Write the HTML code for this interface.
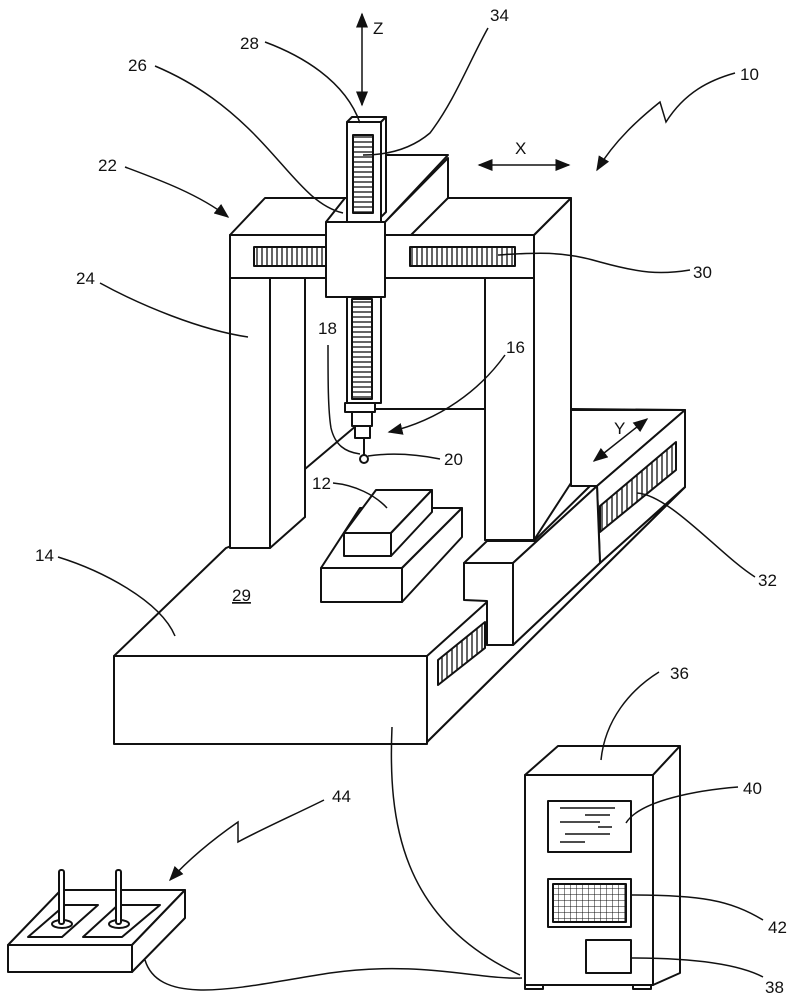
<!DOCTYPE html>
<html><head><meta charset="utf-8"><style>
html,body{margin:0;padding:0;background:#fff}
svg{display:block}
text{font-family:"Liberation Sans",sans-serif;font-size:17px;fill:#111}
</style></head><body>
<svg width="795" height="1000" viewBox="0 0 795 1000" xmlns="http://www.w3.org/2000/svg">
<defs>
<pattern id="rk" width="5" height="10" patternUnits="userSpaceOnUse"><line x1="2" y1="0" x2="2" y2="10" stroke="#111" stroke-width="1.3"/></pattern>
<pattern id="rkh" width="10" height="5" patternUnits="userSpaceOnUse"><line x1="0" y1="2" x2="10" y2="2" stroke="#111" stroke-width="1.3"/></pattern>
<pattern id="grid" width="6" height="6" patternUnits="userSpaceOnUse"><path d="M0 0H6M0 0V6" stroke="#111" stroke-width="1"/></pattern>
<marker id="ah" markerWidth="10" markerHeight="8" refX="9" refY="4" orient="auto"><path d="M0 0L10 4L0 8z" fill="#111"/></marker>
<marker id="ahs" markerWidth="10" markerHeight="8" refX="1" refY="4" orient="auto"><path d="M10 0L0 4L10 8z" fill="#111"/></marker>
</defs>
<g fill="#fff" stroke="#111" stroke-width="2" stroke-linejoin="round">
<polygon points="114,656 226,548 305,517 305,469 376,409 485,409 485,540 571,483 571,409 685,410 685,487 427,742 427,656"/>
<polygon points="427,656 487,602 487,645 513,645 600,563 685,487 427,742"/>
<rect x="114" y="656" width="313" height="88"/>
<polygon points="571,410 685,410 597,486 571,486"/>
<polygon points="597,486 685,410 685,487 600,563"/>
<polygon points="600,506 676,442 676,470 600,532" fill="url(#rk)"/>
<polygon points="438,660 485,622 485,648 438,685" fill="url(#rk)"/>
<polygon points="270,278 305,278 305,517 270,548"/>
<rect x="230" y="235" width="40" height="313"/>
<polygon points="534,235 571,198 571,483 534,540"/>
<rect x="485" y="278" width="49" height="262"/>
<polygon points="464,563 487,541 534,541 590,486 597,486 513,563"/>
<polygon points="513,563 597,486 600,563 513,645"/>
<polygon points="464,563 513,563 513,645 487,645 487,601 464,600"/>
<polygon points="230,235 265,198 571,198 534,235"/>
<rect x="230" y="235" width="304" height="43"/>
<line x1="305" y1="278" x2="485" y2="278"/>
<rect x="254" y="247" width="72" height="19" fill="url(#rk)"/>
<rect x="410" y="247" width="105" height="19" fill="url(#rk)"/>
<polygon points="385,222 448,158 448,198 411,235 385,235"/>
<polygon points="326,222 345,198 381,198 381,155 448,155 385,222"/>
<polygon points="347,122 352,117 386,117 381,122"/>
<polygon points="381,122 386,117 386,212 381,217"/>
<rect x="347" y="122" width="34" height="100"/>
<rect x="353" y="135" width="20" height="78" fill="url(#rkh)"/>
<rect x="326" y="222" width="59" height="75"/>
<rect x="347" y="297" width="34" height="106"/>
<rect x="352" y="299" width="20" height="100" fill="url(#rkh)"/>
<rect x="345" y="403" width="30" height="9"/>
<rect x="352" y="412" width="20" height="14"/>
<rect x="355" y="426" width="15" height="12"/>
<line x1="364" y1="438" x2="364" y2="455"/>
<circle cx="364" cy="459" r="4"/>
<polygon points="321,568 360,508 462,508 402,568"/>
<polygon points="402,568 462,508 462,537 402,602"/>
<rect x="321" y="568" width="81" height="34"/>
<polygon points="344,533 376,490 432,490 391,533"/>
<polygon points="391,533 432,490 432,512 391,556"/>
<rect x="344" y="533" width="47" height="23"/>
<polygon points="525,775 558,746 680,746 653,775"/>
<polygon points="653,775 680,746 680,973 653,985"/>
<rect x="525" y="775" width="128" height="210"/>
<rect x="525" y="985" width="18" height="4"/><rect x="633" y="985" width="18" height="4"/>
<rect x="548" y="801" width="83" height="51"/>
<rect x="548" y="879" width="83" height="48"/>
<rect x="553" y="884" width="73" height="38" fill="url(#grid)"/>
<rect x="586" y="940" width="45" height="33"/>
<polygon points="8,945 61,890 185,890 132,945"/>
<polygon points="132,945 185,890 185,918 132,972"/>
<rect x="8" y="945" width="124" height="27"/>
<polygon points="28,937 65,905 98,905 62,937"/>
<polygon points="83,937 118,905 160,905 122,937"/>
<ellipse cx="62" cy="924" rx="10" ry="4"/><ellipse cx="119" cy="924" rx="10" ry="4"/>
<rect x="59" y="870" width="5" height="54" rx="2"/><rect x="116" y="870" width="5" height="54" rx="2"/>
</g>
<g fill="none" stroke="#111" stroke-width="1.5">
<line x1="560" y1="808" x2="615" y2="808"/><line x1="585" y1="815" x2="610" y2="815"/><line x1="560" y1="822" x2="600" y2="822"/><line x1="598" y1="827" x2="612" y2="827"/><line x1="565" y1="834" x2="610" y2="834"/><line x1="560" y1="842" x2="585" y2="842"/>
<path d="M392,727 C388,820 400,920 520,975"/>
<path d="M145,960 C160,1010 250,985 330,973 C420,960 480,980 522,978"/>
<path d="M155,66 C200,85 230,110 253,133 C290,170 310,205 343,213"/>
<path d="M265,42 C300,55 345,80 360,123"/>
<path d="M488,28 C470,60 455,100 430,133 C410,150 385,155 363,155"/>
<path d="M125,167 C160,180 200,195 228,217" marker-end="url(#ah)"/>
<path d="M100,283 C140,305 200,330 248,337"/>
<path d="M690,270 C660,275 640,273 600,262 C560,250 530,253 498,255"/>
<path d="M328,345 C328,380 328,410 331,428 C335,445 345,452 360,454"/>
<path d="M505,355 C480,390 440,420 389,432" marker-end="url(#ah)"/>
<path d="M440,459 C420,455 395,452 368,456"/>
<path d="M333,483 C355,485 375,495 387,508"/>
<path d="M58,557 C100,570 160,600 175,636"/>
<path d="M755,577 C720,555 670,495 637,493"/>
<path d="M659,672 C630,690 605,720 601,760"/>
<path d="M738,787 C700,790 640,800 626,823"/>
<path d="M763,920 C730,900 700,895 631,895"/>
<path d="M763,977 C740,965 700,958 631,958"/>
<path d="M324,800 C300,812 260,830 238,842 L238,822 C215,838 190,858 170,880" marker-end="url(#ah)"/>
<path d="M735,73 C710,80 685,92 666,122 L660,102 C640,118 615,140 597,170" marker-end="url(#ah)"/>
<line x1="362" y1="14" x2="362" y2="105" marker-start="url(#ahs)" marker-end="url(#ah)"/>
<line x1="479" y1="165" x2="569" y2="165" marker-start="url(#ahs)" marker-end="url(#ah)"/>
<line x1="594" y1="461" x2="647" y2="419" marker-start="url(#ahs)" marker-end="url(#ah)"/>
</g>
<text x="373" y="34">Z</text>
<text x="240" y="49">28</text>
<text x="490" y="21">34</text>
<text x="128" y="71">26</text>
<text x="740" y="80">10</text>
<text x="98" y="171">22</text>
<text x="515" y="154">X</text>
<text x="76" y="284">24</text>
<text x="693" y="278">30</text>
<text x="318" y="334">18</text>
<text x="506" y="353">16</text>
<text x="444" y="465">20</text>
<text x="312" y="489">12</text>
<text x="35" y="561">14</text>
<text x="232" y="601" text-decoration="underline">29</text>
<text x="758" y="586">32</text>
<text x="614" y="434">Y</text>
<text x="670" y="679">36</text>
<text x="743" y="794">40</text>
<text x="768" y="933">42</text>
<text x="765" y="993">38</text>
<text x="332" y="802">44</text>
</svg>
</body></html>
